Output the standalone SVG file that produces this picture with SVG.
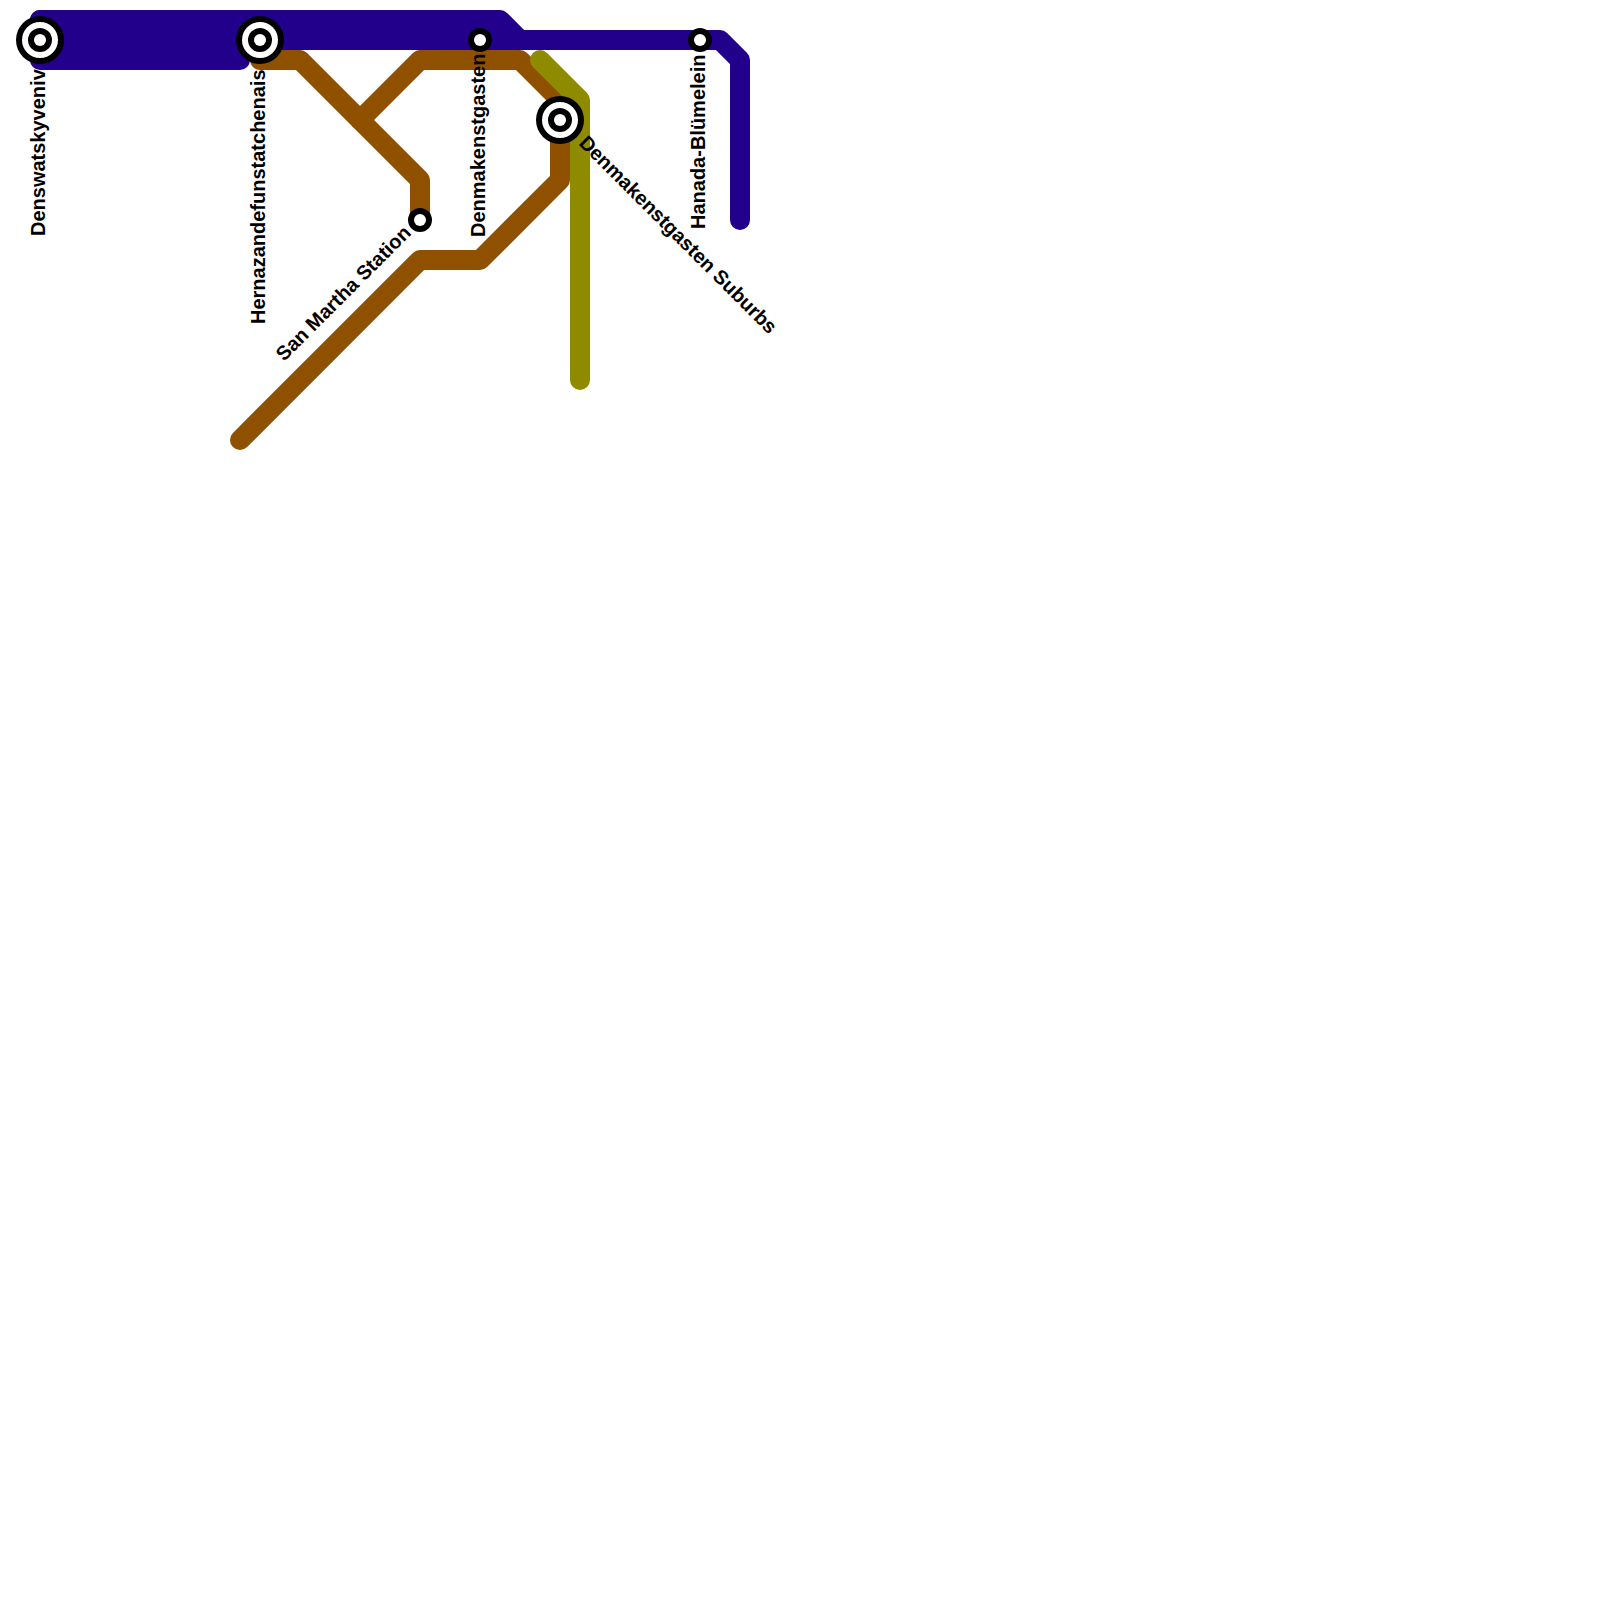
<svg xmlns="http://www.w3.org/2000/svg" width="1600" height="1600" viewBox="0 0 1600 1600">
<style>
.line{fill:none;stroke-width:20;stroke-linecap:round;stroke-linejoin:round}
.blue{stroke:#23008c}.brown{stroke:#8f5000}.olive{stroke:#8f8b00}
.c{fill:#000}
text{font-family:"Liberation Sans",Arial,sans-serif;font-weight:700;font-size:20px;fill:#000}
</style>
<rect width="1600" height="1600" fill="#fff"/>
<g id="connectors">
<path class="line blue" d="M40 20H500L520 40H720L740 60V220"/>
<path class="line blue" d="M40 40H520"/>
<path class="line blue" d="M40 20V60H240V20Z"/>
<path class="line brown" d="M260 60H300L420 180V220"/>
<path class="line brown" d="M360 120L420 60H520L560 100V180L480 260H420L240 440"/>
<path class="line olive" d="M540 60L580 100V380"/>
</g>
<g id="st-denswatskyveniv"><circle class="c" cx="40" cy="40" r="24"/><circle cx="40" cy="40" r="18" fill="#fff"/><circle class="c" cx="40" cy="40" r="12"/><circle cx="40" cy="40" r="6" fill="#fff"/><text transform="translate(45 236) rotate(-90)">Denswatskyveniv</text></g>
<g id="st-hernazandefunstatchenais"><circle class="c" cx="260" cy="40" r="24"/><circle cx="260" cy="40" r="18" fill="#fff"/><circle class="c" cx="260" cy="40" r="12"/><circle cx="260" cy="40" r="6" fill="#fff"/><text transform="translate(265 324) rotate(-90)">Hernazandefunstatchenais</text></g>
<g id="st-denmakenstgasten"><circle class="c" cx="480" cy="40" r="12"/><circle cx="480" cy="40" r="6" fill="#fff"/><text transform="translate(485 237) rotate(-90)">Denmakenstgasten</text></g>
<g id="st-hanada"><circle class="c" cx="700" cy="40" r="12"/><circle cx="700" cy="40" r="6" fill="#fff"/><text transform="translate(705 229) rotate(-90)">Hanada-Blümelein</text></g>
<g id="st-san-martha"><circle class="c" cx="420" cy="220" r="12"/><circle cx="420" cy="220" r="6" fill="#fff"/><text transform="translate(284 362) rotate(-45)">San Martha Station</text></g>
<g id="st-suburbs"><circle class="c" cx="560" cy="120" r="24"/><circle cx="560" cy="120" r="18" fill="#fff"/><circle class="c" cx="560" cy="120" r="12"/><circle cx="560" cy="120" r="6" fill="#fff"/><text transform="translate(578 144) rotate(45)">Denmakenstgasten Suburbs</text></g>
</svg>
